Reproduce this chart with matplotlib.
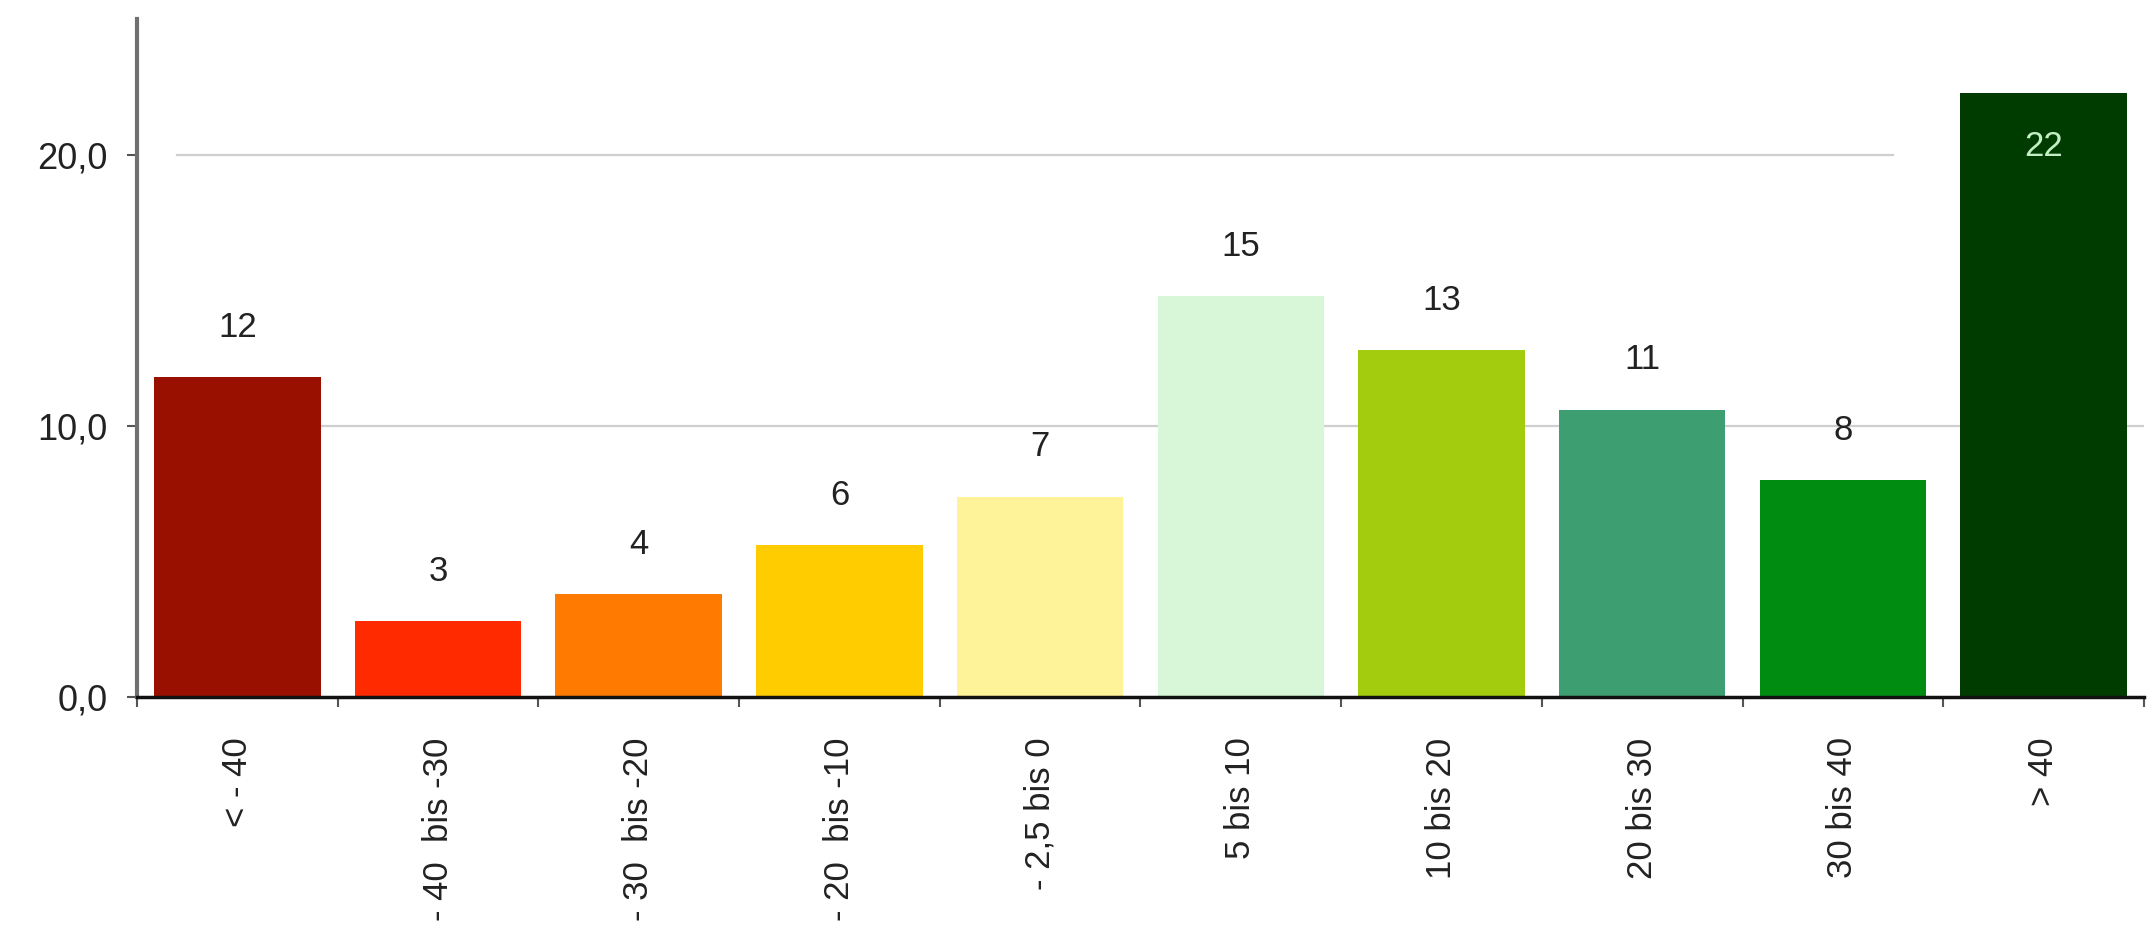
import matplotlib
matplotlib.use('Agg')
import matplotlib.pyplot as plt
import numpy as np

# Klassen und Anteile
klassen = ['< - 40', '- 40  bis -30', '- 30  bis -20', '- 20  bis -10', '- 2,5 bis 0',
           '5 bis 10', '10 bis 20', '20 bis 30', '30 bis 40', '> 40']
werte = [11.8, 2.8, 3.8, 5.6, 7.4, 14.8, 12.8, 10.6, 8.0, 22.3]
farben = ['#9a1000', '#ff2a00', '#ff7a00', '#ffcc00', '#fff39a',
          '#d8f7d8', '#a4cc0e', '#3d9e72', '#008c10', '#003c00']
y_ticks = [0, 10, 20]

plt.rcParams['font.family'] = ['Liberation Sans', 'DejaVu Sans']

fig = plt.figure(figsize=(21.51, 9.51), dpi=100)
ax = fig.add_axes([0.0637, 0.267, 0.933, 0.7125])

x = np.arange(len(klassen))
bars = ax.bar(x, werte, width=0.83, color=farben, zorder=2)

ax.set_xlim(-0.5, len(klassen) - 0.5)
ax.set_ylim(0, 25)

# Gitterlinien
ax.axhline(10, xmin=0.02, xmax=1.0, color='#cfcfcf', lw=1.6, zorder=1)
ax.axhline(20, xmin=0.02, xmax=0.875, color='#cfcfcf', lw=1.6, zorder=1)

# Werte an den Balken
for i, (b, v) in enumerate(zip(bars, werte)):
    if i == len(werte) - 1:
        ax.annotate(str(int(round(v))), (b.get_x() + b.get_width() / 2, v),
                    xytext=(0, -27), textcoords='offset points',
                    ha='center', va='top', fontsize=25, color='#c4efc4')
    else:
        ax.annotate(str(int(round(v))), (b.get_x() + b.get_width() / 2, v),
                    xytext=(0, 24), textcoords='offset points',
                    ha='center', va='bottom', fontsize=25, color='#222222')

ax.set_xticks(x)
ax.set_xticklabels(klassen, rotation=90, fontsize=25, color='#222222')
ax.tick_params(axis='x', which='major', length=0, pad=29)
ax.set_xticks(np.arange(-0.5, len(klassen) + 0.5, 1), minor=True)
ax.tick_params(axis='x', which='minor', length=7, width=1.5, color='#555555')

ax.set_yticks(y_ticks)
ax.yaxis.set_major_formatter(matplotlib.ticker.FuncFormatter(lambda v, p: ('%.1f' % v).replace('.', ',')))
ax.tick_params(axis='y', length=7, width=1.5, color='#555555', pad=14, labelsize=26, labelcolor='#222222')

ax.spines['top'].set_visible(False)
ax.spines['right'].set_visible(False)
ax.spines['left'].set_color('#707070')
ax.spines['left'].set_linewidth(3)
ax.spines['bottom'].set_color('#111111')
ax.spines['bottom'].set_linewidth(2.5)

fig.savefig('out.png', dpi=100, facecolor='white')
